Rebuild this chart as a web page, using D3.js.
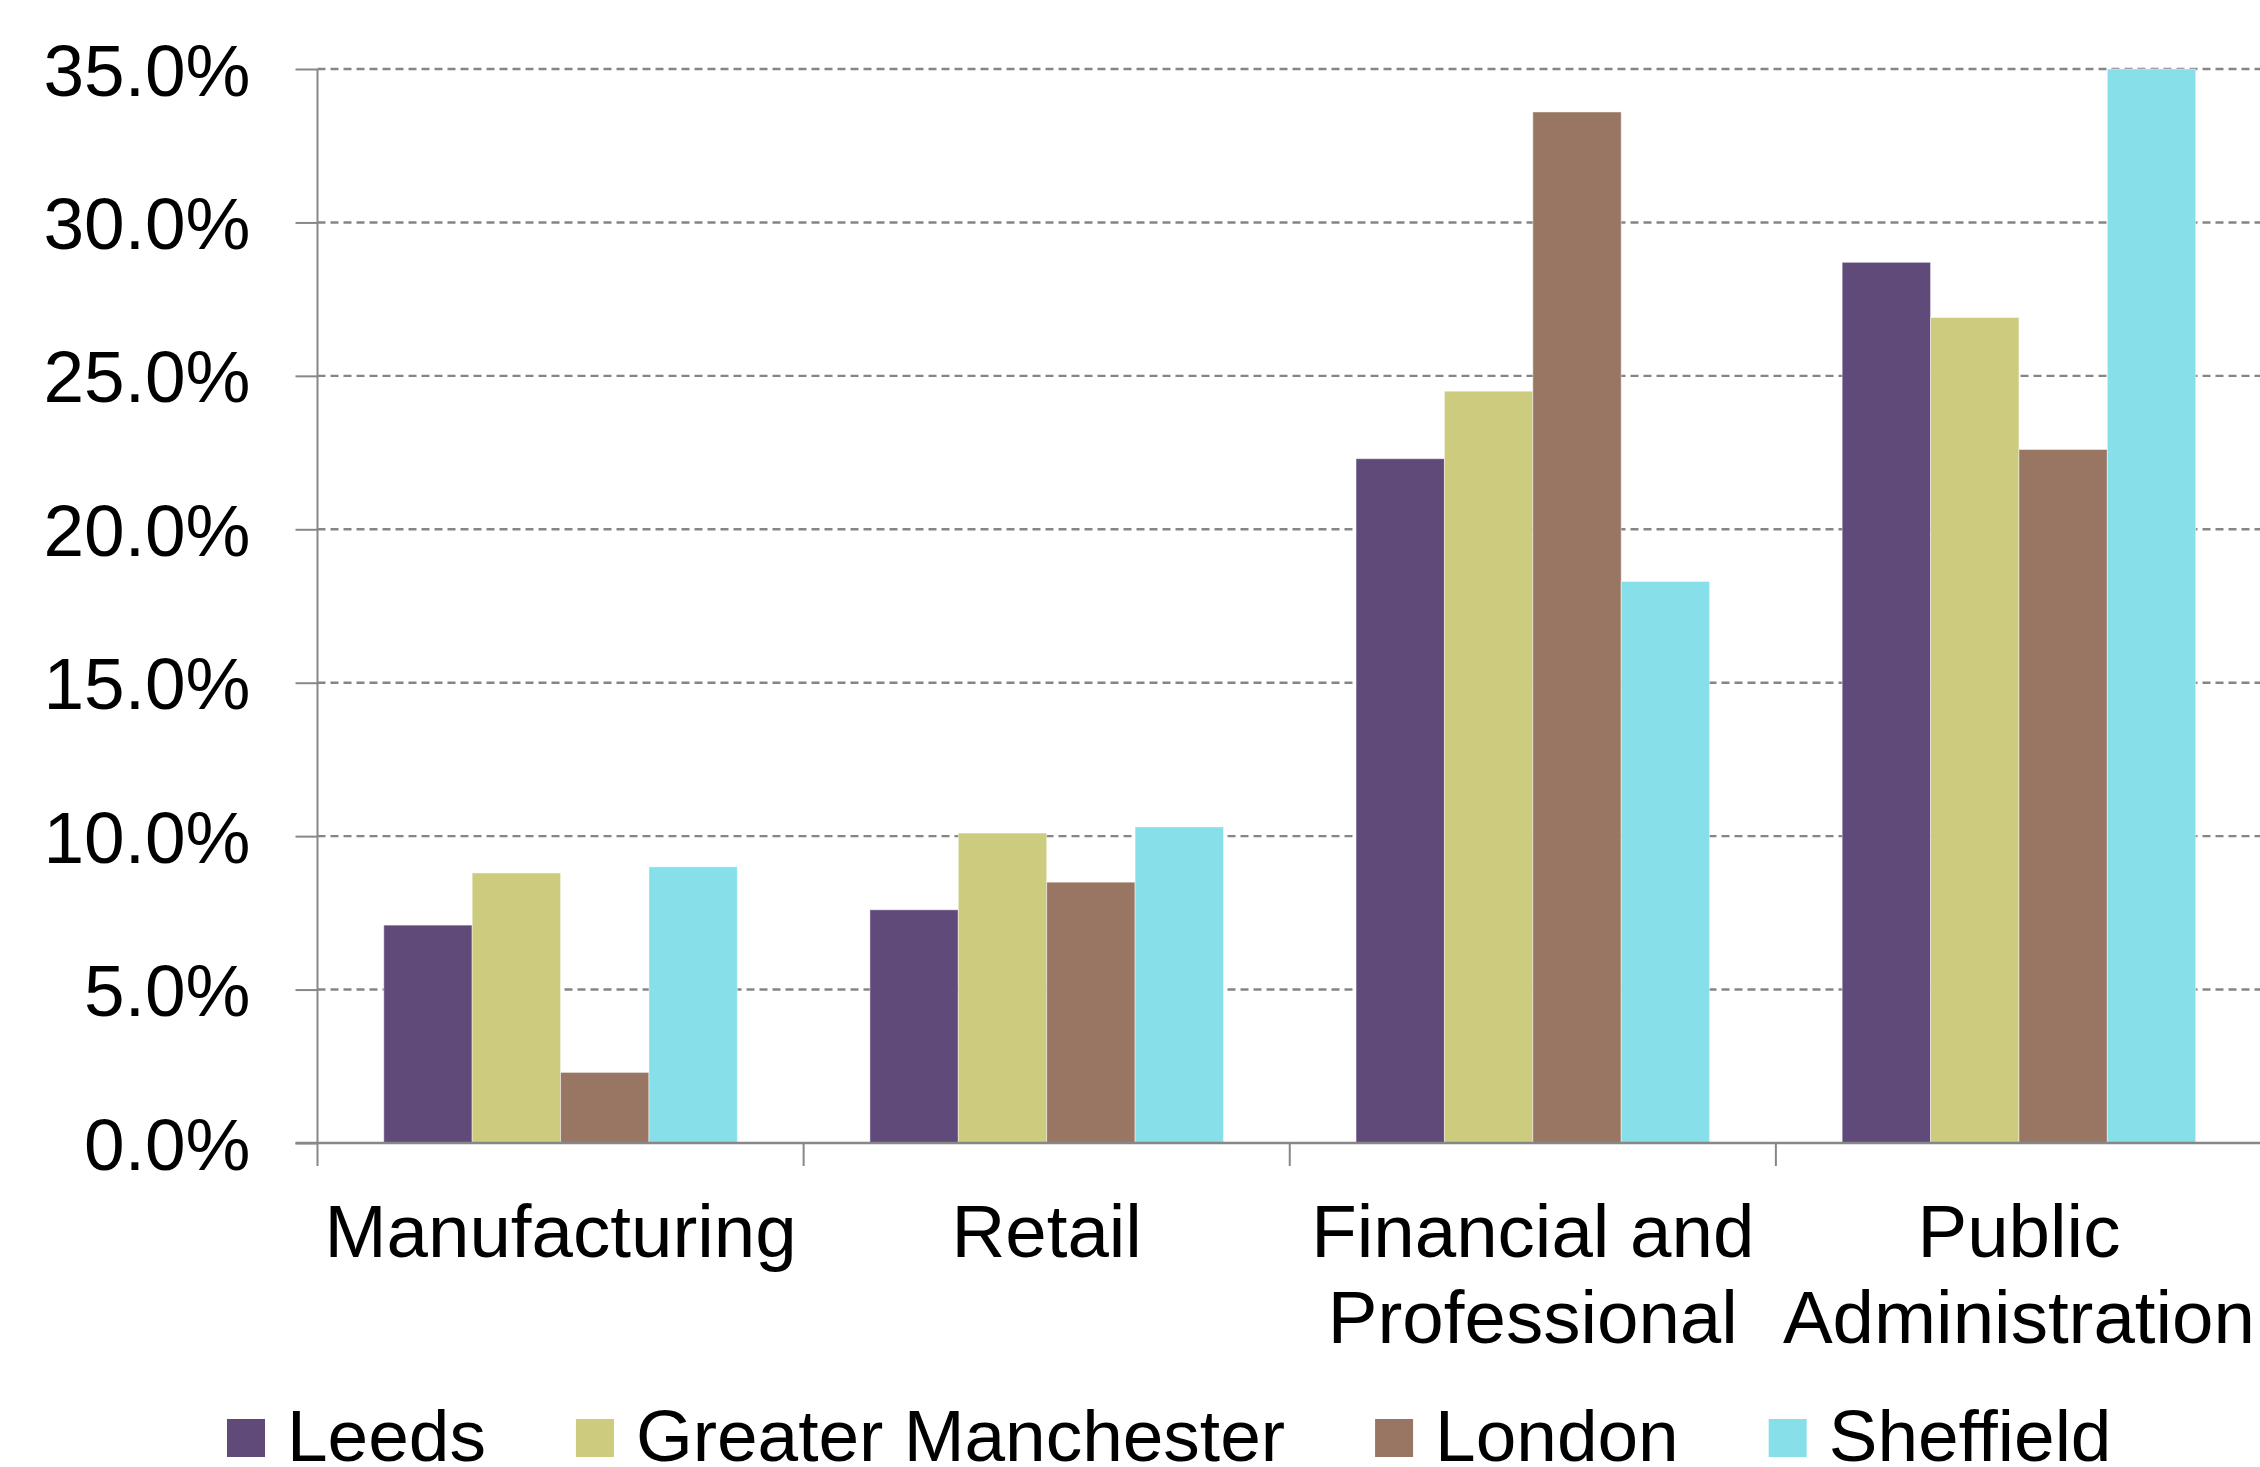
<!DOCTYPE html>
<html>
<head>
<meta charset="utf-8">
<script src="https://cdn.jsdelivr.net/npm/d3@7"></script>
<style>
  html, body { margin: 0; padding: 0; background: #ffffff; }
  svg { display: block; }
  text { font-family: "Liberation Sans", Arial, sans-serif; fill: #000000; }
</style>
</head>
<body>
<svg id="chart" width="2260" height="1467"></svg>
<script>
// Employment share by sector
const categories = [
  ["Manufacturing"],
  ["Retail"],
  ["Financial and", "Professional"],
  ["Public", "Administration"]
];
const seriesNames = ["Leeds", "Greater Manchester", "London", "Sheffield"];
const seriesColors = ["#5f4a7a", "#cdcb7e", "#997663", "#87dfe9"];

const leeds      = [7.1, 7.6, 22.3, 28.7];
const greaterMan = [8.8, 10.1, 24.5, 26.9];
const london     = [2.3, 8.5, 33.6, 22.6];
const sheffield  = [9.0, 10.3, 18.3, 35.0];

const yTicks = [0, 5, 10, 15, 20, 25, 30, 35];

const seriesValues = [leeds, greaterMan, london, sheffield];
const catKeys = categories.map(c => c.join(" "));

const svg = d3.select("#chart");
const TICK_FONT = 73;
const CAT_FONT = 74.5;
const LEGEND_FONT = 73;
const axisColor = "#878787";

const plot = { left: 317.5, right: 2262, top: 69, bottom: 1143 };

const x = d3.scaleBand()
  .domain(catKeys)
  .range([plot.left, plot.right])
  .paddingInner(0)
  .paddingOuter(0);

const xInner = d3.scaleBand()
  .domain(seriesNames)
  .range([0, x.bandwidth()])
  .paddingInner(0)
  .paddingOuter(0.75);

const y = d3.scaleLinear()
  .domain([0, 35])
  .range([plot.bottom, plot.top]);

// horizontal dashed gridlines
svg.append("g")
  .selectAll("line")
  .data(yTicks.filter(t => t > 0))
  .join("line")
  .attr("x1", plot.left)
  .attr("x2", 2260)
  .attr("y1", d => y(d))
  .attr("y2", d => y(d))
  .attr("stroke", "#858585")
  .attr("stroke-width", 2.4)
  .attr("stroke-dasharray", "8,5");

// bars
const rows = [];
catKeys.forEach((c, ci) => {
  seriesNames.forEach((s, si) => {
    rows.push({ cat: c, series: s, value: seriesValues[si][ci], color: seriesColors[si] });
  });
});

svg.append("g")
  .selectAll("rect")
  .data(rows)
  .join("rect")
  .attr("x", d => x(d.cat) + xInner(d.series))
  .attr("width", xInner.bandwidth())
  .attr("y", d => y(d.value))
  .attr("height", d => y(0) - y(d.value))
  .attr("fill", d => d.color)
  .attr("stroke", "rgba(255,255,255,0.45)")
  .attr("stroke-width", 1);

// y axis
const yAxis = d3.axisLeft(y)
  .tickValues(yTicks)
  .tickSize(22)
  .tickPadding(45)
  .tickFormat(d => d.toFixed(1) + "%");

const gy = svg.append("g")
  .attr("transform", `translate(${plot.left},0)`)
  .call(yAxis);
gy.select(".domain").remove();
gy.selectAll(".tick line").attr("stroke", axisColor).attr("stroke-width", 2);
gy.selectAll(".tick text")
  .attr("font-size", TICK_FONT)
  .attr("font-family", "'Liberation Sans', Arial, sans-serif")
  .attr("fill", "#000")
  .attr("dy", null)
  .attr("dominant-baseline", null)
  .attr("y", 26);
gy.append("line")
  .attr("x1", 0).attr("x2", 0)
  .attr("y1", plot.top).attr("y2", plot.bottom + 23)
  .attr("stroke", axisColor).attr("stroke-width", 2);

// x axis baseline and category ticks
const gx = svg.append("g");
gx.append("line")
  .attr("x1", plot.left - 22).attr("x2", 2260)
  .attr("y1", plot.bottom).attr("y2", plot.bottom)
  .attr("stroke", axisColor).attr("stroke-width", 2.5);
gx.selectAll("line.ctick")
  .data(catKeys.slice(1))
  .join("line")
  .attr("class", "ctick")
  .attr("x1", d => x(d)).attr("x2", d => x(d))
  .attr("y1", plot.bottom).attr("y2", plot.bottom + 23)
  .attr("stroke", axisColor).attr("stroke-width", 2);

// category labels (wrapped)
const labels = gx.selectAll("text.cat")
  .data(categories)
  .join("text")
  .attr("class", "cat")
  .attr("text-anchor", "middle")
  .attr("font-size", CAT_FONT)
  .attr("transform", (d, i) => `translate(${x(catKeys[i]) + x.bandwidth() / 2},1257)`);
labels.selectAll("tspan")
  .data(d => d)
  .join("tspan")
  .attr("x", 0)
  .attr("y", (d, i) => i * 85.5)
  .text(d => d);

// legend
const legend = svg.append("g").attr("transform", "translate(227,0)");
let cursor = 0;
seriesNames.forEach((name, i) => {
  const item = legend.append("g").attr("transform", `translate(${cursor},0)`);
  item.append("rect")
    .attr("x", 0).attr("y", 1419)
    .attr("width", 38).attr("height", 38)
    .attr("fill", seriesColors[i]);
  const t = item.append("text")
    .attr("x", 60).attr("y", 1461)
    .attr("font-size", LEGEND_FONT)
    .text(name);
  cursor += 60 + t.node().getComputedTextLength() + 90;
});
</script>
</body>
</html>
